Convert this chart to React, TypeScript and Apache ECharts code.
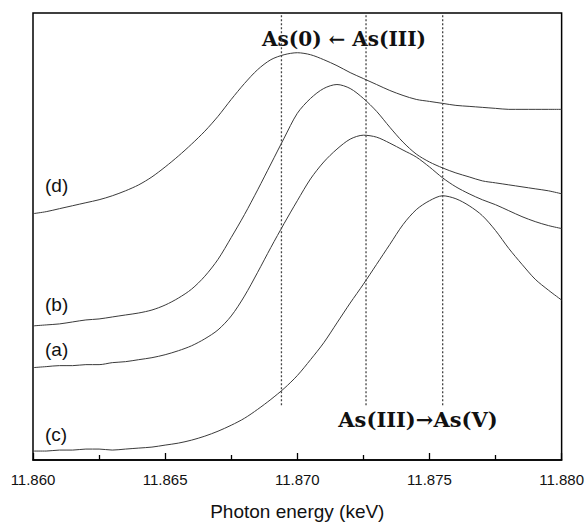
import React, { useEffect, useRef } from "react";
import * as echarts from "echarts";

// Photon energy grid (keV), sampled every 0.5 eV
const energy = [
  11.8600, 11.8605, 11.8610, 11.8615, 11.8620, 11.8625, 11.8630, 11.8635, 11.8640, 11.8645,
  11.8650, 11.8655, 11.8660, 11.8665, 11.8670, 11.8675, 11.8680, 11.8685, 11.8690, 11.8695,
  11.8700, 11.8705, 11.8710, 11.8715, 11.8720, 11.8725, 11.8730, 11.8735, 11.8740, 11.8745,
  11.8750, 11.8755, 11.8760, 11.8765, 11.8770, 11.8775, 11.8780, 11.8785, 11.8790, 11.8795,
  11.8800,
];

// Normalised, vertically offset XANES spectra
const spectrumD = [
  2.48, 2.50, 2.53, 2.56, 2.59, 2.62, 2.66, 2.71, 2.77, 2.85,
  2.95, 3.06, 3.18, 3.31, 3.46, 3.63, 3.79, 3.93, 4.03, 4.08,
  4.10, 4.08, 4.03, 3.97, 3.90, 3.84, 3.78, 3.72, 3.67, 3.63,
  3.61, 3.59, 3.57, 3.56, 3.55, 3.54, 3.53, 3.53, 3.53, 3.53,
  3.53,
];
const spectrumB = [
  1.35, 1.36, 1.37, 1.39, 1.41, 1.42, 1.44, 1.46, 1.48, 1.51,
  1.56, 1.63, 1.72, 1.85, 2.02, 2.24, 2.47, 2.72, 2.98, 3.24,
  3.49, 3.64, 3.74, 3.78, 3.74, 3.64, 3.51, 3.35, 3.20, 3.08,
  3.00, 2.94, 2.89, 2.85, 2.81, 2.79, 2.77, 2.75, 2.73, 2.71,
  2.68,
];
const spectrumA = [
  0.93, 0.94, 0.95, 0.95, 0.96, 0.96, 0.98, 0.99, 1.01, 1.03,
  1.06, 1.10, 1.15, 1.22, 1.31, 1.45, 1.65, 1.89, 2.14, 2.38,
  2.61, 2.83, 3.00, 3.13, 3.23, 3.27, 3.25, 3.19, 3.12, 3.05,
  2.95, 2.84, 2.75, 2.68, 2.62, 2.57, 2.51, 2.45, 2.40, 2.36,
  2.33,
];
const spectrumC = [
  0.09, 0.09, 0.10, 0.10, 0.11, 0.11, 0.10, 0.11, 0.12, 0.13,
  0.15, 0.17, 0.20, 0.24, 0.29, 0.35, 0.42, 0.51, 0.61, 0.72,
  0.85, 1.01, 1.18, 1.38, 1.58, 1.77, 1.97, 2.17, 2.37, 2.52,
  2.61, 2.66, 2.63, 2.56, 2.46, 2.31, 2.13, 1.97, 1.82, 1.71,
  1.61,
];

// Edge positions of As(0), As(III) and As(V) (keV)
const edgeMarkers = [11.8694, 11.8726, 11.8755];
const edgeLineSpan = [0.55, 4.5];

const xTicks = { min: 11.86, max: 11.88, interval: 0.005 };

const curveLabels = [
  { text: "(d)", y: 187 },
  { text: "(b)", y: 306 },
  { text: "(a)", y: 351 },
  { text: "(c)", y: 436 },
];

const pair = (vals: number[]) => energy.map((e, i) => [e, vals[i]]);

export default function App() {
  const ref = useRef<HTMLDivElement>(null);

  useEffect(() => {
    document.body.style.margin = "0";
    if (!ref.current) return;
    const chart = echarts.init(ref.current, null, { renderer: "svg" });

    const curveStyle = { color: "#3a3a3a", width: 1 };
    const spectra = [spectrumD, spectrumB, spectrumA, spectrumC].map((s) => ({
      type: "line",
      data: pair(s),
      symbol: "none",
      smooth: 0.3,
      lineStyle: curveStyle,
      silent: true,
    }));

    const edges = edgeMarkers.map((e) => ({
      type: "line",
      data: [
        [e, edgeLineSpan[0]],
        [e, edgeLineSpan[1]],
      ],
      symbol: "none",
      lineStyle: { color: "#444", width: 1.3, type: [2, 2] },
      silent: true,
    }));

    const sans = "'Liberation Sans', Arial, sans-serif";
    const serif = "'DejaVu Serif', 'Liberation Serif', serif";

    chart.setOption({
      animation: false,
      backgroundColor: "#fff",
      grid: {
        left: 33,
        right: 25,
        top: 13,
        bottom: 63,
        show: true,
        borderColor: "#000",
        borderWidth: 1.5,
        backgroundColor: "transparent",
      },
      xAxis: {
        type: "value",
        min: xTicks.min,
        max: xTicks.max,
        interval: xTicks.interval,
        name: "Photon energy (keV)",
        nameLocation: "middle",
        nameGap: 42,
        nameTextStyle: { fontFamily: sans, fontSize: 19, color: "#111" },
        axisLine: { show: true, lineStyle: { color: "#000", width: 1.5 } },
        axisTick: { show: true, inside: true, length: 7, lineStyle: { color: "#000", width: 1.3 } },
        minorTick: { show: true, splitNumber: 2, length: 5, lineStyle: { color: "#000", width: 1.3 } },
        splitLine: { show: false },
        axisLabel: {
          fontFamily: sans,
          fontSize: 15,
          color: "#111",
          margin: 12,
          formatter: (v: number) => v.toFixed(3),
        },
      },
      yAxis: {
        type: "value",
        min: 0,
        max: 4.5,
        show: false,
      },
      series: [...spectra, ...edges],
      graphic: [
        ...curveLabels.map((l) => ({
          type: "text",
          left: 45,
          top: l.y - 11,
          style: { text: l.text, font: `19px ${sans}`, fill: "#111" },
        })),
        {
          type: "text",
          x: 344,
          y: 39,
          style: {
            text: "As(0) \u2190 As(III)",
            font: `bold 20px ${serif}`,
            fill: "#111",
            align: "center",
            verticalAlign: "middle",
          },
        },
        {
          type: "text",
          x: 418,
          y: 419,
          style: {
            text: "As(III)\u2192As(V)",
            font: `bold 21px ${serif}`,
            fill: "#111",
            align: "center",
            verticalAlign: "middle",
          },
        },
      ],
    });

    return () => chart.dispose();
  }, []);

  return <div ref={ref} style={{ width: 587, height: 526 }} />;
}
